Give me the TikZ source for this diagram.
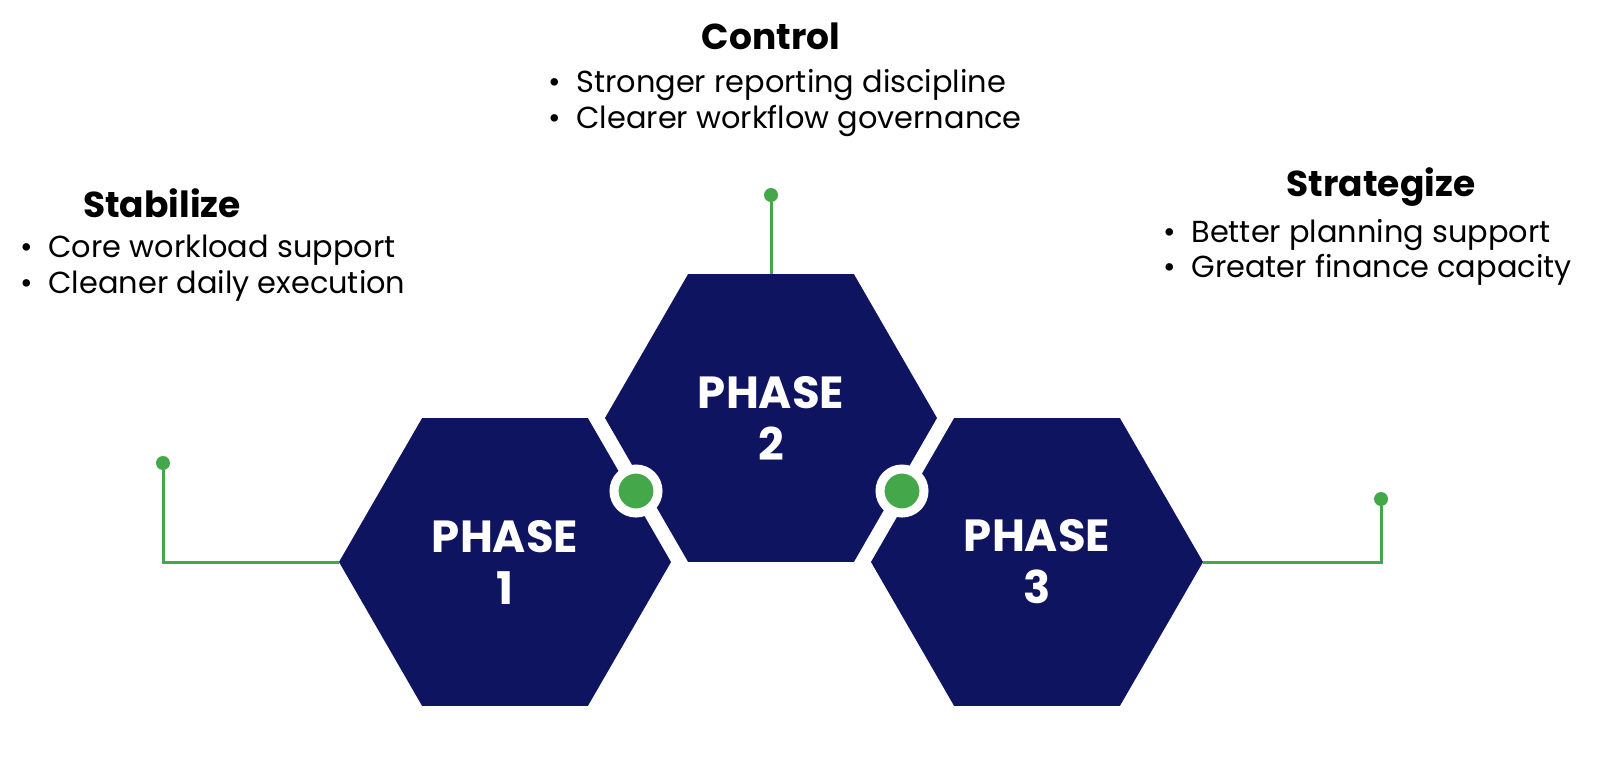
\documentclass[tikz,border=0pt]{standalone}
\usepackage{fontspec}
\setmainfont{Poppins}
\usetikzlibrary{shapes.geometric}
\definecolor{navy}{HTML}{0F1461}
\definecolor{grn}{HTML}{44A84A}
\begin{document}
\begin{tikzpicture}[x=0.5pt,y=-0.5pt,
 hex/.style={regular polygon,regular polygon sides=6,minimum size=332*0.5pt,inner sep=0,outer sep=0,fill=navy,text=white,font=\fontsize{22.5}{26}\selectfont\bfseries,align=center},
 ln/.style={grn,line width=1.5pt},
 dot/.style={circle,fill=grn,minimum size=7pt,inner sep=0},
 bigdot/.style={circle,fill=grn,draw=white,line width=4.5pt,minimum size=22pt,inner sep=0},
 ttl/.style={font=\fontsize{18}{21}\selectfont\bfseries},
 bl/.style={anchor=west,font=\fontsize{15.2}{18}\selectfont,inner sep=0}]
\node[hex] (p1) at (505,562) {PHASE\\1};
\node[hex] (p2) at (771,418) {PHASE\\2};
\node[hex] (p3) at (1037,562) {PHASE\\3};
\node[bigdot] (d1) at (636,491) {};
\node[bigdot] (d2) at (902,491) {};
\node[dot] (t1) at (163,463) {};
\node[dot] (t2) at (771,195) {};
\node[dot] (t3) at (1381,499) {};
\draw[ln] (p1.west) -| (t1);
\draw[ln] (p2.north) -- (t2);
\draw[ln] (p3.east) -| (t3);
\node[ttl] (s1) at (162,203) {Stabilize};
\node[bl] (b11) at (20,250) {\makebox[14pt][l]{\textbullet}Core workload support};
\node[bl] (b12) at (20,286) {\makebox[14pt][l]{\textbullet}Cleaner daily execution};
\node[ttl] (s2) at (771,36) {Control};
\node[bl] (b21) at (548,85) {\makebox[14pt][l]{\textbullet}Stronger reporting discipline};
\node[bl] (b22) at (548,121) {\makebox[14pt][l]{\textbullet}Clearer workflow governance};
\node[ttl] (s3) at (1381,187) {Strategize};
\node[bl] (b31) at (1163,235) {\makebox[14pt][l]{\textbullet}Better planning support};
\node[bl] (b32) at (1163,270) {\makebox[14pt][l]{\textbullet}Greater finance capacity};
\pgfresetboundingbox
\useasboundingbox (0,0) rectangle (1623,760);
\end{tikzpicture}
\end{document}
